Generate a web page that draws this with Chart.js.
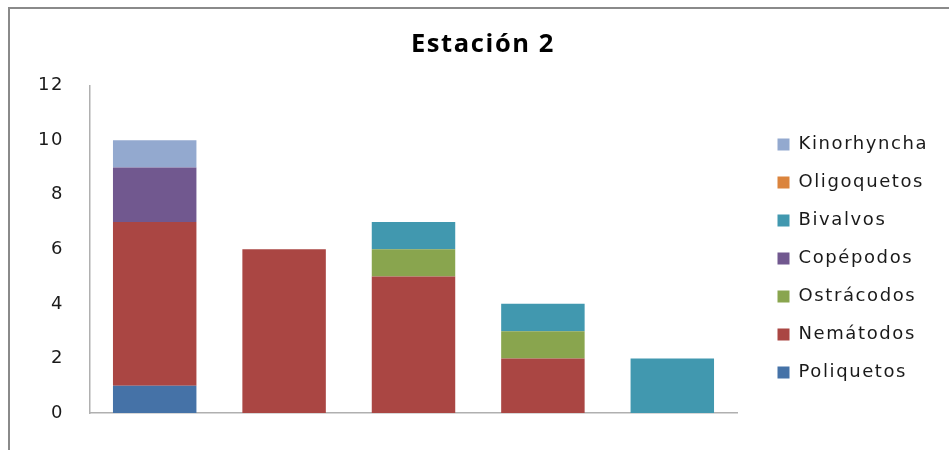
<!DOCTYPE html>
<html lang="es">
<head>
<meta charset="utf-8">
<title>Estación 2</title>
<script src="https://cdn.jsdelivr.net/npm/chart.js@4.4.1/dist/chart.umd.min.js"></script>
<style>
  html, body { margin: 0; padding: 0; background: #fff; }
  #wrap { position: relative; width: 949px; height: 450px; overflow: hidden; }
  #frame { position: absolute; left: 8px; top: 7px; right: -10px; bottom: -10px;
           border-left: 2px solid #8a8a8a; border-top: 2px solid #8a8a8a; }
  canvas { position: absolute; left: 0; top: 0; }
</style>
</head>
<body>
<div id="wrap">
  <div id="frame"></div>
  <canvas id="chart" width="949" height="450"></canvas>
</div>
<script>
// individuos por muestra (5 muestras, estación 2)
const muestras    = ['M1', 'M2', 'M3', 'M4', 'M5'];
const poliquetos  = [1, 0, 0, 0, 0];
const nematodos   = [6, 6, 5, 2, 0];
const ostracodos  = [0, 0, 1, 1, 0];
const copepodos   = [2, 0, 0, 0, 0];
const bivalvos    = [0, 0, 1, 1, 2];
const oligoquetos = [0, 0, 0, 0, 0];
const kinorhyncha = [1, 0, 0, 0, 0];
const yTicks      = [0, 2, 4, 6, 8, 10, 12];

const grupos = [
  { label: 'Poliquetos',  data: poliquetos,  color: '#4572A7' },
  { label: 'Nemátodos',   data: nematodos,   color: '#AA4643' },
  { label: 'Ostrácodos',  data: ostracodos,  color: '#89A54E' },
  { label: 'Copépodos',   data: copepodos,   color: '#71588F' },
  { label: 'Bivalvos',    data: bivalvos,    color: '#4198AF' },
  { label: 'Oligoquetos', data: oligoquetos, color: '#DB843D' },
  { label: 'Kinorhyncha', data: kinorhyncha, color: '#93A9CF' }
];

const TEXT = '#1a1a1a';
const AXIS = '#b0b0b0';
const LETRA = '1.6px';

// texto un poco más abierto, como en la hoja original
const spacing = {
  id: 'spacing',
  beforeLayout(chart) { chart.ctx.letterSpacing = LETRA; },
  beforeDraw(chart) { chart.ctx.letterSpacing = LETRA; }
};

// leyenda: ancho fijo y desplazada hacia abajo / derecha
const legendBox = {
  id: 'legendBox',
  beforeLayout(chart) {
    const legend = chart.legend;
    if (legend && !legend._anchoFijo) {
      const fit = legend.fit;
      legend.fit = function () {
        fit.call(this);
        this.width = 212;
      };
      legend._anchoFijo = true;
    }
  },
  afterLayout(chart) {
    const legend = chart.legend;
    legend.left += 20.5;
    legend.right += 20.5;
    legend.top += 52;
    legend.bottom += 52;
  }
};

new Chart(document.getElementById('chart'), {
  type: 'bar',
  data: {
    labels: muestras,
    datasets: grupos.map(g => ({
      label: g.label,
      data: g.data,
      backgroundColor: g.color,
      borderWidth: 0,
      categoryPercentage: 1,
      barPercentage: 0.645
    }))
  },
  options: {
    responsive: false,
    animation: false,
    layout: { padding: { left: 17, right: 0, top: 0, bottom: 37 } },
    scales: {
      x: {
        stacked: true,
        grid: { display: false, drawTicks: false },
        border: { display: true, color: AXIS, width: 1.5 },
        ticks: { display: false }
      },
      y: {
        stacked: true,
        min: 0,
        max: 12,
        afterBuildTicks(scale) { scale.ticks = yTicks.map(v => ({ value: v })); },
        afterFit(scale) { scale.width = 73; },
        grid: { display: false, drawTicks: false },
        border: { display: true, color: AXIS, width: 1.5 },
        ticks: {
          padding: 26,
          color: TEXT,
          font: { family: 'DejaVu Sans', size: 18 }
        }
      }
    },
    plugins: {
      title: {
        display: true,
        text: 'Estación 2',
        color: '#000',
        font: { family: 'Open Sans', size: 25.5, weight: 'bold' },
        padding: { top: 29, bottom: 26 }
      },
      legend: {
        position: 'right',
        reverse: true,
        labels: {
          boxWidth: 12,
          boxHeight: 12,
          padding: 20,
          color: TEXT,
          font: { family: 'DejaVu Sans', size: 18 }
        }
      },
      tooltip: { enabled: false }
    }
  },
  plugins: [spacing, legendBox]
});
</script>
</body>
</html>
